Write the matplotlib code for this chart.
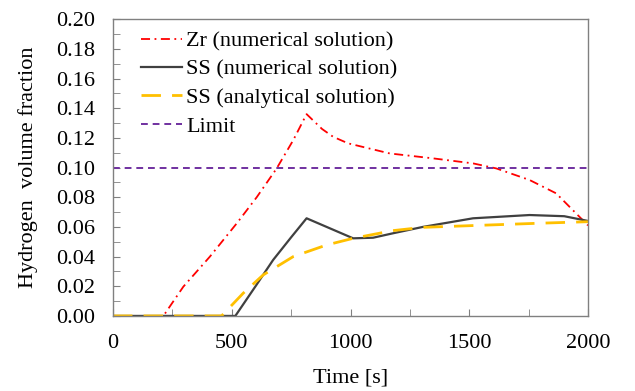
import matplotlib
matplotlib.use("Agg")
import matplotlib.pyplot as plt
from matplotlib.ticker import MultipleLocator, FormatStrFormatter

plt.rcParams['font.family'] = ['Liberation Serif', 'DejaVu Serif']

# Zr numerical solution
zr_t = [0, 212, 296, 408, 521, 605, 689, 759, 815, 880, 927, 990, 1165, 1347, 1516, 1614, 1754, 1866, 2000]
zr_v = [0, 0, 0.0197, 0.040, 0.0624, 0.080, 0.0994, 0.1185, 0.136, 0.126, 0.1207, 0.1163, 0.1095, 0.1062, 0.1028, 0.0994, 0.0916, 0.0826, 0.061]

# SS numerical solution
ssn_t = [0, 515, 600, 674, 750, 815, 1011, 1095, 1179, 1305, 1516, 1754, 1900, 2000]
ssn_v = [0, 0, 0.020, 0.0377, 0.053, 0.0658, 0.0523, 0.0527, 0.0557, 0.060, 0.0658, 0.068, 0.0672, 0.0640]

# SS analytical solution
ssa_t = [0, 457, 548, 632, 759, 899, 1011, 1179, 1305, 1586, 1800, 2000]
ssa_v = [0, 0, 0.0153, 0.0276, 0.040, 0.0478, 0.0523, 0.0575, 0.0597, 0.0613, 0.0625, 0.0635]

limit_t = [0, 2000]
limit_v = [0.1, 0.1]

labels = ["Zr (numerical solution)", "SS (numerical solution)", "SS (analytical solution)", "Limit"]

fig = plt.figure(figsize=(6.35, 3.91), dpi=100)
ax = fig.add_axes([0.178, 0.192, 0.748, 0.759])

ax.plot(zr_t, zr_v, color='#FF0000', lw=1.3, linestyle=(0, (5, 2.5, 1, 2.5)), label=labels[0])
ax.plot(ssn_t, ssn_v, color='#404040', lw=1.6, label=labels[1])
ax.plot(ssa_t, ssa_v, color='#FFC000', lw=2.0, linestyle=(0, (7, 4)), label=labels[2])
ax.plot(limit_t, limit_v, color='#7030A0', lw=1.4, linestyle=(0, (3.5, 2.5)), label=labels[3])

ax.set_xlim(0, 2000)
ax.set_ylim(0, 0.20)
ax.xaxis.set_major_locator(MultipleLocator(500))
ax.xaxis.set_minor_locator(MultipleLocator(250))
ax.yaxis.set_major_locator(MultipleLocator(0.02))
ax.yaxis.set_minor_locator(MultipleLocator(0.01))
ax.yaxis.set_major_formatter(FormatStrFormatter('%.2f'))
ax.tick_params(which='both', direction='in', length=5, color='#808080', labelsize=16)
ax.tick_params(axis='x', which='both', top=False, pad=13)
ax.tick_params(axis='y', which='both', right=False, pad=13)
for s in ax.spines.values():
    s.set_color('#808080')
    s.set_linewidth(1.0)

ax.set_xlabel("Time [s]", fontsize=16, labelpad=11)
ax.set_ylabel("Hydrogen  volume fraction", fontsize=16, labelpad=13)

ax.legend(loc='upper left', bbox_to_anchor=(0.04, 0.99), frameon=False, fontsize=16,
          handlelength=1.85, handletextpad=0.2, labelspacing=0.35, borderaxespad=0.0)

fig.savefig("out.png", dpi=100)
